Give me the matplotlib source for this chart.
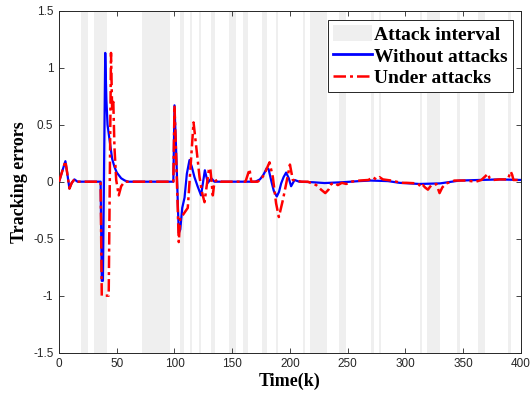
import matplotlib
matplotlib.use("Agg")
import matplotlib.pyplot as plt
from matplotlib.patches import Patch
from matplotlib.lines import Line2D

# attack intervals (start, end) in time steps
attack_start = [19, 30, 72, 105, 113, 121, 132, 147, 159, 175.5, 188, 211, 217, 242.5,
                270.5, 277, 312.5, 318.7, 345, 362.8, 388.8]
attack_end = [25, 41.7, 95.7, 108, 115, 123, 134.7, 153.5, 163.5, 180.3, 189.5, 212.7, 232,
              248.8, 272.7, 279.1, 314.3, 329.6, 347, 369.2, 391.8]

# tracking error without attacks (breakpoints)
k_free = [0, 3, 5.5, 7, 9, 11, 13.3, 16, 36, 37, 38, 40, 41, 42, 43.7, 46, 48, 50, 53.8, 57, 60,
          99, 100, 101.5, 103.7, 105, 106.7, 108.7, 110.7, 113, 115, 117.3, 120, 123, 126.3,
          128.9, 131.8, 134.6, 140, 170, 174, 177, 180, 181.5, 184, 186, 188.6, 190.5, 192.4,
          194.5, 196.7, 199, 201, 204, 208, 220, 230, 245, 260, 270, 285, 295, 312, 330, 347,
          364, 381.5, 400]
e_free = [0, 0.1, 0.18, 0.08, -0.06, -0.01, 0.02, 0, 0, -0.87, -0.87, 1.13, 0.72, 0.5, 0.37, 0.2,
          0.13, 0.08, 0.03, 0.01, 0,
          0, 0.67, 0.25, -0.45, -0.42, -0.23, -0.14, 0.07, 0.19, 0.13, 0.04, -0.04, -0.12, 0.1,
          -0.01, 0.03, 0, 0, 0, 0.02, 0.06, 0.12, 0.11, 0.0, -0.08, -0.13, -0.09, -0.015,
          0.04, 0.08, 0.03, -0.04, 0.015, 0.0, -0.005, -0.012, -0.005, 0.005, 0.01, 0.005,
          -0.01, -0.02, -0.015, 0.01, 0.015, 0.02, 0.015]

# tracking error under attacks (breakpoints)
k_att = [0, 3, 5.5, 7, 9, 11, 13.3, 16, 36, 37, 43, 45, 46, 47, 48, 49.5, 51.7, 53.8, 56.7,
         99, 100, 101.5, 103.7, 105, 107.4, 111.5, 114.5, 116.5, 118.8, 121.7, 124, 126, 129.7,
         131, 133.2, 134.6, 137.5, 140, 161.5, 165, 166.5, 172, 175, 178, 182.3, 185.2, 188,
         190.4, 193.9, 196.8, 200, 202.5, 205, 210, 215.5, 222.8, 227, 230.6, 233.4, 235.8,
         238.7, 241.5, 245, 248.8, 253, 260.5, 268, 271.8, 274.7, 277.6, 280.5, 287.7, 296.4,
         300.8, 310.8, 313.8, 315.2, 317, 319.5, 322.5, 326.8, 329.6, 332, 335.5, 342.6, 352.7,
         361, 365.8, 369.5, 371.5, 373, 376, 381.5, 388.8, 391.2, 392.5, 393.6, 400]
e_att = [0, 0.1, 0.18, 0.08, -0.06, -0.01, 0.02, 0, 0, -1.0, -1.0, 1.13, 0.62, 0.7, 0.3, 0.015,
         -0.12, -0.04, 0,
         0, 0.67, 0.2, -0.53, -0.31, -0.29, -0.23, 0.22, 0.52, 0.31, 0.04, -0.1, -0.18, 0.1,
         0.12, -0.12, 0.0, 0.02, 0, 0, 0.11, 0, 0, 0.02, 0.07, 0.17, 0.04, -0.19,
         -0.31, -0.16, -0.015, 0.15, 0.015, 0.01, 0, 0, -0.03, -0.07, -0.1, -0.07, -0.02,
         -0.01, -0.03, -0.01, -0.02, 0, 0.01, 0.015, 0.04, 0.02, 0.04, 0.02, 0.01, -0.01,
         -0.01, -0.015, -0.05, -0.03, -0.05, -0.07, -0.03, -0.02, -0.1, -0.05, -0.015, 0.01, 0.01,
         0, 0.015, 0.05, 0.07, 0.03, 0.015, 0.02, 0.02, 0.09, 0.06, 0.015, 0.015]

xticks = [0, 50, 100, 150, 200, 250, 300, 350, 400]
yticks = [-1.5, -1, -0.5, 0, 0.5, 1, 1.5]
ytick_labels = ["-1.5", "-1", "-0.5", "0", "0.5", "1", "1.5"]

band_color = "#efefef"
axis_color = "#262626"
red_dash = (0, (5, 1.6, 1.2, 1.6))

fig = plt.figure(figsize=(5.32, 3.98), dpi=100)
ax = fig.add_axes([0.111, 0.114, 0.868, 0.859])

for s, e in zip(attack_start, attack_end):
    ax.axvspan(s, e, color=band_color, lw=0, zorder=0)

ax.plot(k_free, e_free, color="#0000ff", lw=1.6, zorder=2)
ax.plot(k_att, e_att, color="#ff0000", lw=1.8, ls=red_dash, zorder=3)

ax.set_xlim(0, 400)
ax.set_ylim(-1.5, 1.5)
ax.set_xticks(xticks)
ax.set_yticks(yticks)
ax.set_yticklabels(ytick_labels)
ax.tick_params(direction="in", top=True, right=True, length=3.5, width=0.6,
               labelsize=8.5, colors=axis_color, pad=4)
for t in ax.get_xticklabels() + ax.get_yticklabels():
    t.set_family("Liberation Sans")
    t.set_color(axis_color)
for sp in ax.spines.values():
    sp.set_color(axis_color)
    sp.set_linewidth(0.7)

ax.set_xlabel("Time(k)", family="Liberation Serif", fontweight="bold", fontsize=13,
              labelpad=2)
ax.set_ylabel("Tracking errors", family="Liberation Serif", fontweight="bold", fontsize=13,
              labelpad=4)

handles = [Patch(facecolor=band_color, edgecolor="none"),
           Line2D([], [], color="#0000ff", lw=2),
           Line2D([], [], color="#ff0000", lw=1.8, ls=red_dash)]
leg = ax.legend(handles, ["Attack interval", "Without attacks", "Under attacks"],
                loc="upper right", bbox_to_anchor=(0.985, 0.975),
                prop={"family": "Liberation Serif", "weight": "bold", "size": 14},
                fancybox=False, framealpha=1, edgecolor=axis_color, borderpad=0.25,
                handlelength=2.0, handleheight=0.9, handletextpad=0.15, labelspacing=0.15,
                borderaxespad=0.05)
leg.get_frame().set_linewidth(0.7)

fig.savefig("out.png", dpi=100)
